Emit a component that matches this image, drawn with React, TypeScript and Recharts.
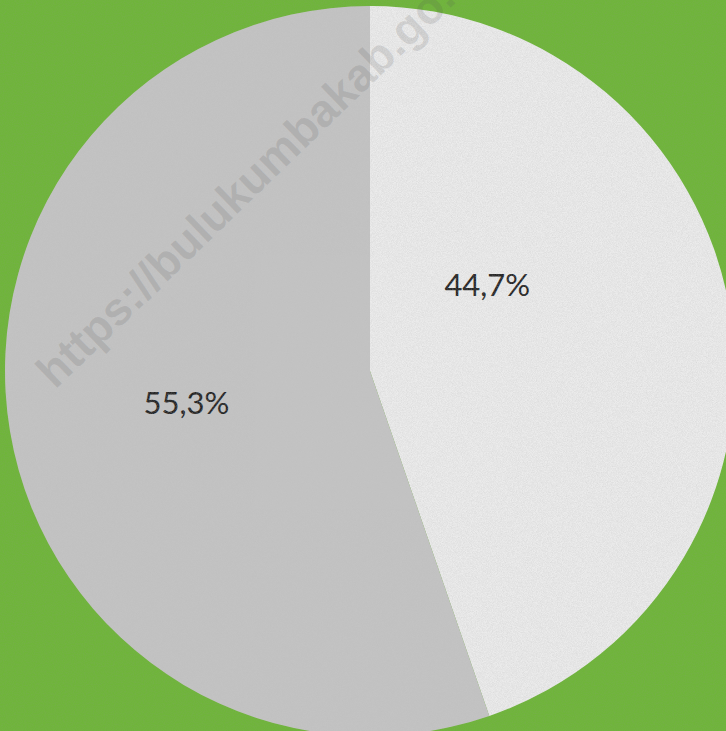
import React from "react";
import { PieChart, Pie, Cell } from "recharts";

const categories = ["A", "B"];
const values = [44.7, 55.3];
const labels = ["44,7%", "55,3%"];
const colors = ["#ebebeb", "#c3c3c3"];

const data = categories.map((c, i) => ({ name: c, value: values[i], label: labels[i] }));

const RAD = Math.PI / 180;
// label placement tweaks relative to slice geometry (angle offset deg, radius fraction)
const labelTweaks = [
  { dAngle: 27, rf: 0.4 },
  { dAngle: 0, rf: 0.51 },
];

const renderLabel = (props: any) => {
  const { cx, cy, midAngle, outerRadius, index } = props;
  const t = labelTweaks[index];
  const a = (midAngle + t.dAngle) * RAD;
  const r = outerRadius * t.rf;
  const x = cx + r * Math.cos(a);
  const y = cy - r * Math.sin(a);
  return (
    <text
      x={x}
      y={y}
      textAnchor="middle"
      dominantBaseline="central"
      fill="#222222"
      style={{ fontFamily: "Lato, 'Noto Sans', sans-serif", fontWeight: 400, fontSize: 31 }}
    >
      {data[index].label}
    </text>
  );
};

export default function App() {
  return (
    <div
      style={{
        position: "absolute",
        left: 0,
        top: 0,
        width: 726,
        height: 731,
        overflow: "hidden",
        background: "#6fb53a",
      }}
    >
      <svg width={726} height={731} style={{ position: "absolute", left: 0, top: 0 }}>
        <filter id="bgNoise">
          <feTurbulence type="fractalNoise" baseFrequency="0.9" numOctaves="2" seed="3" />
          <feColorMatrix type="matrix" values="0 0 0 0 0.2  0 0 0 0 0.4  0 0 0 0 0.1  0 0 0 1.2 -0.35" />
        </filter>
        <rect width={726} height={731} filter="url(#bgNoise)" opacity={0.6} />
      </svg>
      <div style={{ position: "absolute", left: 0, top: 0 }}>
        <PieChart width={726} height={731} margin={{ top: 0, right: 0, bottom: 0, left: 0 }}>
          <Pie
            data={data}
            dataKey="value"
            cx={370}
            cy={371}
            innerRadius={0}
            outerRadius={365}
            startAngle={90}
            endAngle={-270}
            stroke="none"
            labelLine={false}
            label={renderLabel}
            isAnimationActive={false}
          >
            {data.map((d, i) => (
              <Cell key={d.name} fill={colors[i]} />
            ))}
          </Pie>
        </PieChart>
      </div>
      <svg width={726} height={731} style={{ position: "absolute", left: 0, top: 0, pointerEvents: "none" }}>
        <defs>
          <clipPath id="pieClip">
            <circle cx={370} cy={371} r={365} />
          </clipPath>
          <filter id="pieNoise">
            <feTurbulence type="fractalNoise" baseFrequency="1.2" numOctaves="2" seed="7" />
            <feColorMatrix type="matrix" values="0 0 0 0 0.5  0 0 0 0 0.5  0 0 0 0 0.5  0 0 0 1.0 -0.3" />
          </filter>
        </defs>
        <rect width={726} height={731} filter="url(#pieNoise)" clipPath="url(#pieClip)" opacity={0.5} />
        <text
          x={55}
          y={390}
          textAnchor="start"
          transform="rotate(-44 55 390)"
          fill="#555555"
          fillOpacity={0.16}
          style={{ fontFamily: "'Liberation Sans', Arial, sans-serif", fontWeight: 700, fontSize: 46 }}
        >
          https://bulukumbakab.go.id
        </text>
      </svg>
    </div>
  );
}
